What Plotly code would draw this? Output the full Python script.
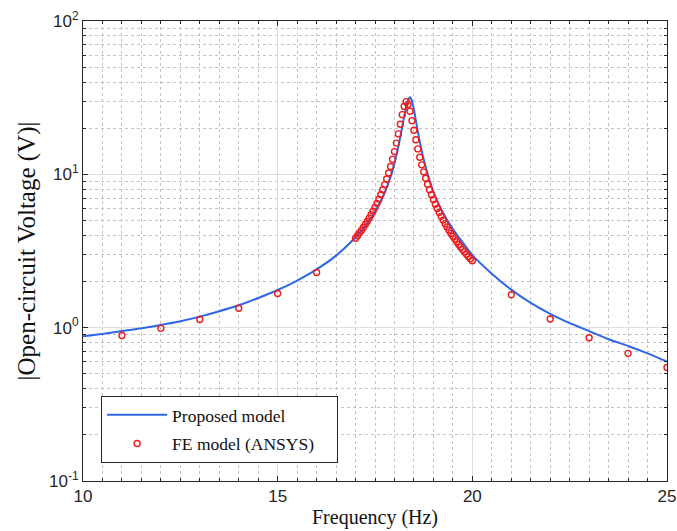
import plotly.graph_objects as go

# Proposed model (blue line)
model_f = [10, 10.5, 11, 11.5, 12, 12.5, 13, 13.5, 14, 14.5, 15, 15.5, 16, 16.5,
           17, 17.25, 17.5, 17.75, 17.9, 18.0, 18.1, 18.2, 18.3, 18.35, 18.4,
           18.45, 18.5, 18.6, 18.7, 18.8, 19.0, 19.25, 19.5, 19.75, 20.0, 20.5,
           21, 21.5, 22, 22.5, 23, 23.5, 24, 24.5, 25]
model_v = [0.88, 0.91, 0.95, 0.99, 1.04, 1.10, 1.18, 1.28, 1.40, 1.56, 1.76, 2.03, 2.40, 2.95,
           3.89, 4.6, 5.7, 7.6, 9.6, 11.8, 15.2, 20.5, 27.5, 30.5, 31.8,
           30.0, 26.5, 19.0, 14.2, 11.2, 7.7, 5.6, 4.4, 3.6, 2.97, 2.25,
           1.77, 1.45, 1.23, 1.07, 0.95, 0.84, 0.76, 0.68, 0.60]

# FE model (ANSYS) points
fe_f = [11, 12, 13, 14, 15, 16,
        17.00, 17.05, 17.10, 17.15, 17.20, 17.25, 17.30, 17.35, 17.40, 17.45,
        17.50, 17.55, 17.60, 17.65, 17.70, 17.75, 17.80, 17.85, 17.90, 17.95,
        18.00, 18.05, 18.10, 18.15, 18.20, 18.25, 18.30, 18.35, 18.40, 18.45,
        18.50, 18.55, 18.60, 18.65, 18.70, 18.75, 18.80, 18.85, 18.90, 18.95,
        19.00, 19.05, 19.10, 19.15, 19.20, 19.25, 19.30, 19.35, 19.40, 19.45,
        19.50, 19.55, 19.60, 19.65, 19.70, 19.75, 19.80, 19.85, 19.90, 19.95,
        20.00,
        21, 22, 23, 24, 25]
fe_v = [0.89, 0.99, 1.13, 1.34, 1.67, 2.29,
        3.83, 3.98, 4.14, 4.31, 4.50, 4.71, 4.93, 5.18, 5.45, 5.75,
        6.09, 6.47, 6.89, 7.38, 7.93, 8.57, 9.32, 10.20, 11.26, 12.52,
        14.07, 15.98, 18.35, 21.21, 24.51, 27.74, 29.79, 28.6, 25.8, 22.4,
        19.4, 16.8, 14.65, 12.93, 11.53, 10.38, 9.43, 8.62, 7.94, 7.36,
        6.85, 6.39, 5.99, 5.64, 5.32, 5.03, 4.77, 4.54, 4.32, 4.12,
        3.95, 3.78, 3.63, 3.49, 3.35, 3.23, 3.12, 3.01, 2.91, 2.82,
        2.73,
        1.64, 1.14, 0.86, 0.68, 0.55]

x_ticks = [10, 15, 20, 25]
y_tickvals = [0.1, 1, 10, 100]
y_ticktext = ["10<sup>-1</sup>", "10<sup>0</sup>", "10<sup>1</sup>", "10<sup>2</sup>"]
y_minor = [m * d for d in (0.1, 1, 10) for m in range(2, 10)]

fig = go.Figure()
fig.add_trace(go.Scatter(
    x=model_f, y=model_v, mode="lines", name="Proposed model", legendgroup="a",
    line=dict(color="#2f66e8", width=2, shape="spline", smoothing=0.6)))
fig.add_trace(go.Scatter(
    x=fe_f, y=fe_v, mode="markers", name="FE model (ANSYS)\u00a0\u00a0\u00a0\u00a0",
    legendgroup="b",
    marker=dict(symbol="circle-open", size=6, color="#ee1c1c",
                line=dict(width=1.4, color="#ee1c1c"))))

axis_common = dict(
    showline=True, linecolor="#262626", linewidth=1, mirror="ticks",
    ticks="inside", ticklen=5, tickcolor="#262626",
    showgrid=True, gridcolor="#dedede", gridwidth=1,
    tickfont=dict(family="Liberation Sans, Arial", size=17, color="#262626"),
    zeroline=False, automargin=False,
)

fig.update_xaxes(
    **axis_common,
    range=[10, 25], tickmode="array", tickvals=x_ticks,
    minor=dict(dtick=0.5, ticks="inside", ticklen=3, tickcolor="#262626",
               showgrid=True, gridcolor="#c4c4c4", griddash="dot", gridwidth=1),
    title=dict(text="Frequency (Hz)", standoff=4,
               font=dict(family="Liberation Serif, Times New Roman", size=20, color="#111")),
)
fig.update_yaxes(
    **axis_common,
    type="log", range=[-1, 2], tickmode="array",
    tickvals=y_tickvals, ticktext=y_ticktext,
    minor=dict(tickmode="array", tickvals=y_minor, ticks="inside", ticklen=3,
               tickcolor="#262626", showgrid=True, gridcolor="#c4c4c4",
               griddash="dot", gridwidth=1),
    title=dict(text="|Open-circuit Voltage (V)|", standoff=6,
               font=dict(family="Liberation Serif, Times New Roman", size=25, color="#111")),
)

fig.update_layout(
    width=677, height=531,
    margin=dict(l=83, r=10, t=21, b=50),
    plot_bgcolor="white", paper_bgcolor="white",
    showlegend=True,
    legend=dict(
        x=0.031, y=0.185, xanchor="left", yanchor="top",
        bgcolor="white", bordercolor="#262626", borderwidth=1,
        font=dict(family="Liberation Serif, Times New Roman", size=17.5, color="#111"),
        itemwidth=60, tracegroupgap=3,
    ),
)

fig.write_html("out.html")
